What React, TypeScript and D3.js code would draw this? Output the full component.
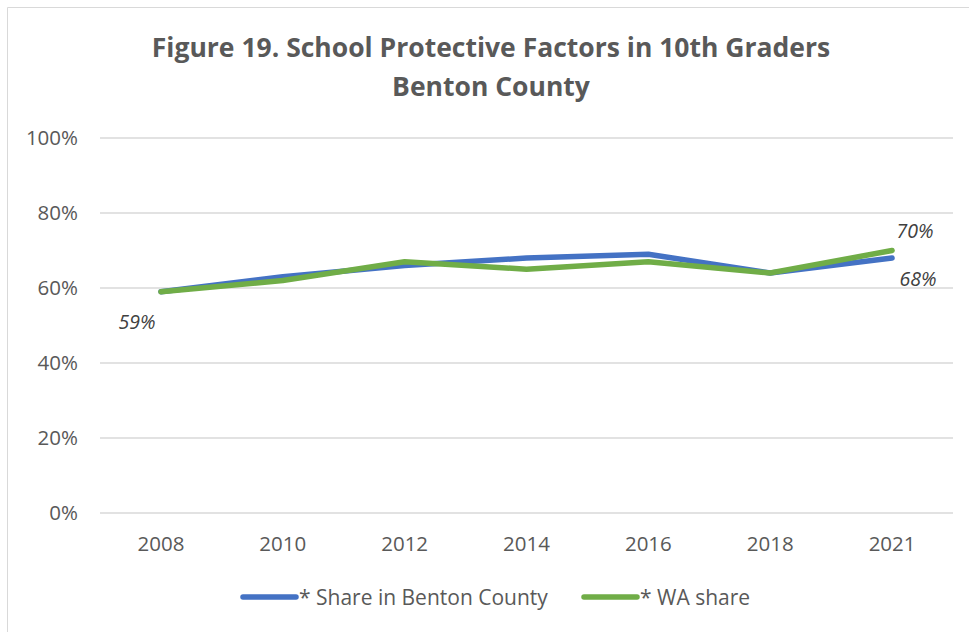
import { useEffect, useRef } from "react";
import * as d3 from "d3";

const years = ["2008", "2010", "2012", "2014", "2016", "2018", "2021"];
const bentonShare = [59, 63, 66, 68, 69, 64, 68];
const waShare = [59, 62, 67, 65, 67, 64, 70];
const yTicks = [0, 20, 40, 60, 80, 100];
const titleLines = ["Figure 19. School Protective Factors in 10th Graders", "Benton County"];
const seriesNames = ["* Share in Benton County", "* WA share"];

const W = 969;
const H = 632;
const FONT = "'Open Sans', 'Noto Sans', sans-serif";

export default function App() {
  const ref = useRef<SVGSVGElement>(null);

  useEffect(() => {
    if (!ref.current) return;
    const svg = d3.select(ref.current);
    svg.selectAll("*").remove();

    const left = 100;
    const right = 953;
    const top = 138;
    const bottom = 513;

    const x = d3.scaleBand<string>().domain(years).range([left, right]);
    const y = d3.scaleLinear().domain([0, 100]).range([bottom, top]);
    const cx = (yr: string) => (x(yr) ?? 0) + x.bandwidth() / 2;

    // chart frame
    svg.append("rect").attr("x", 0).attr("y", 0).attr("width", W).attr("height", H).attr("fill", "#fff");
    svg.append("path")
      .attr("d", `M7.5,${H} V7.5 H${W}`)
      .attr("fill", "none")
      .attr("stroke", "#d9d9d9")
      .attr("stroke-width", 1);

    // title
    svg.selectAll(".title")
      .data(titleLines)
      .join("text")
      .attr("x", 491)
      .attr("y", (_, i) => 57 + i * 39)
      .attr("text-anchor", "middle")
      .attr("font-family", FONT)
      .attr("font-weight", "bold")
      .attr("font-size", 26.5)
      .attr("fill", "#595959")
      .text((d) => d);

    // gridlines + y labels
    svg.selectAll(".grid")
      .data(yTicks)
      .join("line")
      .attr("x1", left)
      .attr("x2", right)
      .attr("y1", (d) => y(d))
      .attr("y2", (d) => y(d))
      .attr("stroke", "#d9d9d9")
      .attr("stroke-width", 1.5);

    svg.selectAll(".ylab")
      .data(yTicks)
      .join("text")
      .attr("x", 78)
      .attr("y", (d) => y(d) + 7)
      .attr("text-anchor", "end")
      .attr("font-family", FONT)
      .attr("font-size", 20.5)
      .attr("fill", "#595959")
      .text((d) => `${d}%`);

    svg.selectAll(".xlab")
      .data(years)
      .join("text")
      .attr("x", (d) => cx(d))
      .attr("y", 551)
      .attr("text-anchor", "middle")
      .attr("font-family", FONT)
      .attr("font-size", 20.5)
      .attr("fill", "#595959")
      .text((d) => d);

    const line = d3
      .line<number>()
      .x((_, i) => cx(years[i]))
      .y((d) => y(d));

    const series = [
      { values: bentonShare, color: "#4472C4" },
      { values: waShare, color: "#70AD47" },
    ];

    series.forEach((s) => {
      svg.append("path")
        .attr("d", line(s.values))
        .attr("fill", "none")
        .attr("stroke", s.color)
        .attr("stroke-width", 5.5)
        .attr("stroke-linejoin", "round")
        .attr("stroke-linecap", "round");
    });

    // data labels
    const last = years.length - 1;
    const labels = [
      { text: `${bentonShare[0]}%`, x: cx(years[0]) - 24, y: y(bentonShare[0]) + 37 },
      { text: `${waShare[last]}%`, x: cx(years[last]) + 23, y: y(waShare[last]) - 13 },
      { text: `${bentonShare[last]}%`, x: cx(years[last]) + 26, y: y(bentonShare[last]) + 28 },
    ];
    svg.selectAll(".dlab")
      .data(labels)
      .join("text")
      .attr("x", (d) => d.x)
      .attr("y", (d) => d.y)
      .attr("text-anchor", "middle")
      .attr("font-family", FONT)
      .attr("font-style", "italic")
      .attr("font-size", 19.5)
      .attr("fill", "#404040")
      .text((d) => d.text);

    // legend
    const legendX = [241, 582];
    const colors = ["#4472C4", "#70AD47"];
    seriesNames.forEach((name, i) => {
      const g = svg.append("g").attr("transform", `translate(${legendX[i]},597)`);
      g.append("line")
        .attr("x1", 2)
        .attr("x2", 55)
        .attr("stroke", colors[i])
        .attr("stroke-width", 5.5)
        .attr("stroke-linecap", "round");
      g.append("text")
        .attr("x", 58)
        .attr("y", 7.5)
        .attr("font-family", FONT)
        .attr("font-size", 21)
        .attr("fill", "#595959")
        .text(name);
    });
  }, []);

  return (
    <svg
      ref={ref}
      width={W}
      height={H}
      style={{ position: "absolute", left: 0, top: 0, display: "block" }}
    />
  );
}
